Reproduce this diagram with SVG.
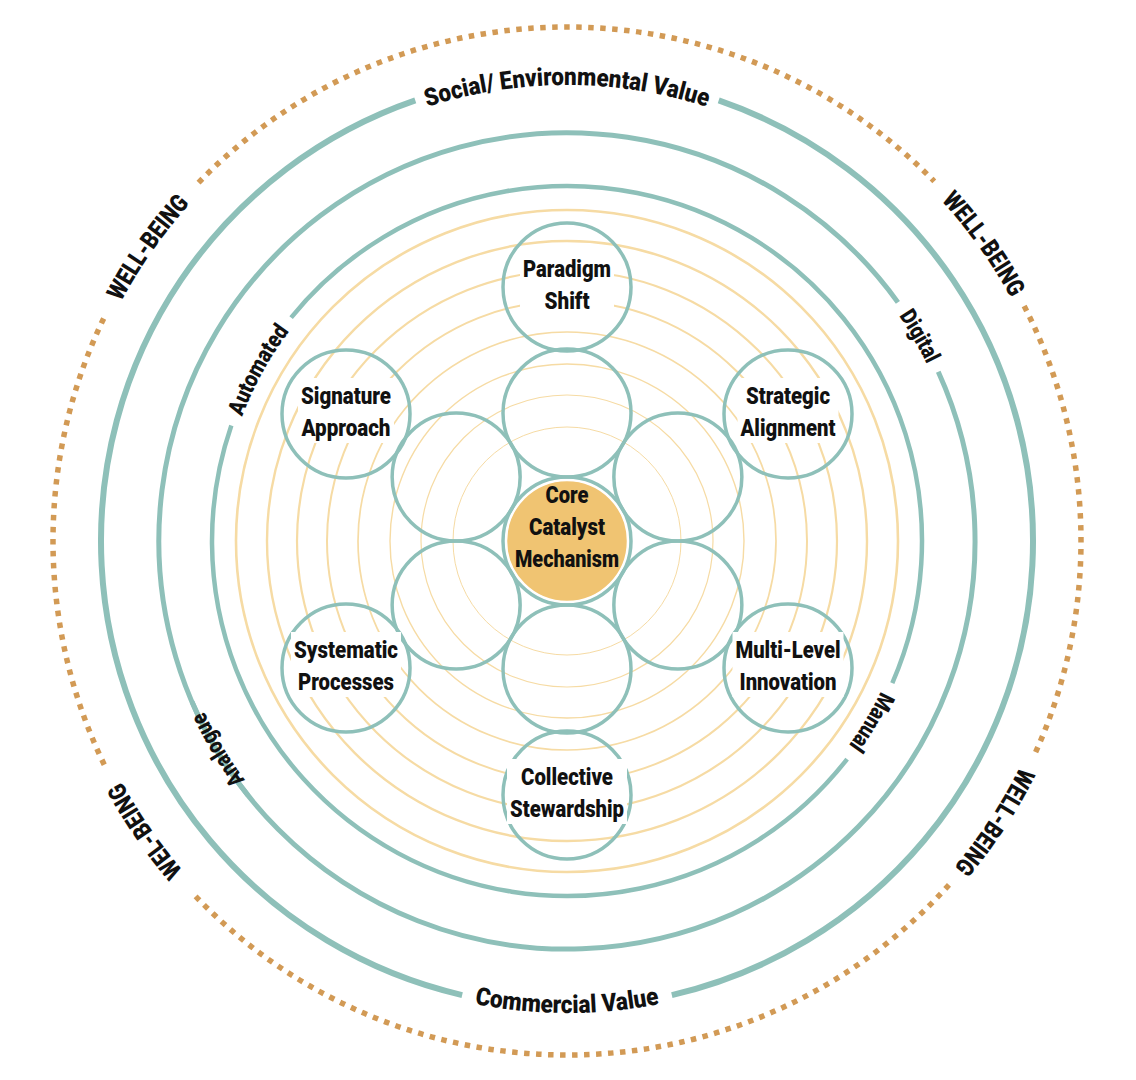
<svg xmlns="http://www.w3.org/2000/svg" width="1136" height="1080" viewBox="0 0 1136 1080">
<defs>
<style>
.bg{fill:#ffffff}
.yr{fill:none;stroke:#F6DBA4}
.tr{fill:none;stroke:#8EC0B9}
.dot{fill:none;stroke:#D29A55;stroke-width:5.5;stroke-dasharray:5.5 6.5}
.nc{fill:none;stroke:#8EC0B9;stroke-width:3.5}
.lb{fill:#ffffff}
.nt{font-family:Roboto,"Liberation Sans",sans-serif;font-weight:900;font-size:23px;fill:#111111;text-anchor:middle}
.rt{font-family:Roboto,"Liberation Sans",sans-serif;font-weight:900;fill:#111111;text-anchor:middle}
</style>
<path id="pSoc" d="M 273.89 191.68 A 456 456 0 0 1 860.11 191.68"/>
<path id="pCom" d="M 263.60 902.57 A 472 472 0 0 0 870.40 902.57"/>
<path id="pWUL" d="M 78.24 410.04 A 506 506 0 0 1 276.77 126.51"/>
<path id="pWUR" d="M 853.60 123.99 A 506 506 0 0 1 1054.60 405.78"/>
<path id="pWLR" d="M 1059.43 657.41 A 506 506 0 0 1 869.40 946.70"/>
<path id="pWLL" d="M 273.17 952.94 A 506 506 0 0 1 77.12 667.69"/>
<path id="pAut" d="M 219.05 547.07 A 348 348 0 0 1 387.77 242.70"/>
<path id="pMan" d="M 914.97 545.56 A 348 348 0 0 1 737.04 844.63"/>
<path id="pDig" d="M 766.59 193.20 A 401 401 0 0 1 968.00 539.95"/>
<path id="pAna" d="M 371.68 891.21 A 401 401 0 0 1 166.04 546.95"/>
</defs>
<rect class="bg" x="0" y="0" width="1136" height="1080"/>

<g id="yellow-rings">
<circle class="yr" cx="567" cy="541" r="331" stroke-width="2.6"/>
<circle class="yr" cx="567" cy="541" r="300" stroke-width="2.4"/>
<circle class="yr" cx="567" cy="541" r="270" stroke-width="2.2"/>
<circle class="yr" cx="567" cy="541" r="240" stroke-width="2"/>
<circle class="yr" cx="567" cy="541" r="209" stroke-width="1.7"/>
<circle class="yr" cx="567" cy="541" r="177" stroke-width="1.4"/>
<circle class="yr" cx="567" cy="541" r="146" stroke-width="1.2"/>
<circle class="yr" cx="567" cy="541" r="114" stroke-width="1"/>
</g>

<g id="outer-rings">
<path class="dot" d="M 198.51 182.65 A 514 514 0 0 1 934.24 181.37"/>
<path class="dot" d="M 1024.16 306.08 A 514 514 0 0 1 1034.35 754.97"/>
<path class="dot" d="M 948.97 884.93 A 514 514 0 0 1 192.93 893.51"/>
<path class="dot" d="M 104.24 764.71 A 514 514 0 0 1 105.02 315.68"/>
<path class="tr" stroke-width="6" d="M 718.71 100.39 A 466 466 0 0 1 671.83 995.06"/>
<path class="tr" stroke-width="6" d="M 462.17 995.06 A 466 466 0 0 1 415.29 100.39"/>
<path class="tr" stroke-width="5" d="M 938.26 371.81 A 408 408 0 1 1 191.99 701.73"/>
<path class="tr" stroke-width="5" d="M 247.70 794.98 A 408 408 0 1 1 897.91 302.34"/>
<path class="tr" stroke-width="4.5" d="M 291.11 317.59 A 355 355 0 0 1 892.31 683.12"/>
<path class="tr" stroke-width="4.5" d="M 847.12 759.07 A 355 355 0 0 1 231.34 425.42"/>
</g>

<g id="ring-labels">
<text class="rt" font-size="25"><textPath href="#pSoc" startOffset="50%" textLength="284" lengthAdjust="spacingAndGlyphs">Social/ Environmental Value</textPath></text>
<text class="rt" font-size="25"><textPath href="#pCom" startOffset="50%" textLength="186" lengthAdjust="spacingAndGlyphs">Commercial Value</textPath></text>
<text class="rt" font-size="25"><textPath href="#pWUL" startOffset="50%" textLength="120" lengthAdjust="spacingAndGlyphs">WELL-BEING</textPath></text>
<text class="rt" font-size="25"><textPath href="#pWUR" startOffset="50%" textLength="120" lengthAdjust="spacingAndGlyphs">WELL-BEING</textPath></text>
<text class="rt" font-size="25"><textPath href="#pWLR" startOffset="50%" textLength="120" lengthAdjust="spacingAndGlyphs">WELL-BEING</textPath></text>
<text class="rt" font-size="25"><textPath href="#pWLL" startOffset="50%" textLength="108" lengthAdjust="spacingAndGlyphs">WEL-BEING</textPath></text>
<text class="rt" font-size="23"><textPath href="#pAut" startOffset="50%" textLength="98" lengthAdjust="spacingAndGlyphs">Automated</textPath></text>
<text class="rt" font-size="23"><textPath href="#pMan" startOffset="50%" textLength="63" lengthAdjust="spacingAndGlyphs">Manual</textPath></text>
<text class="rt" font-size="23"><textPath href="#pDig" startOffset="50%" textLength="56" lengthAdjust="spacingAndGlyphs">Digital</textPath></text>
<text class="rt" font-size="23"><textPath href="#pAna" startOffset="50%" textLength="80" lengthAdjust="spacingAndGlyphs">Analogue</textPath></text>
</g>

<g id="connectors"></g>

<g id="petals">
<circle class="nc" cx="567" cy="413" r="64"/>
<circle class="nc" cx="677.85" cy="477" r="64"/>
<circle class="nc" cx="677.85" cy="605" r="64"/>
<circle class="nc" cx="567" cy="669" r="64"/>
<circle class="nc" cx="456.15" cy="605" r="64"/>
<circle class="nc" cx="456.15" cy="477" r="64"/>
</g>

<g id="node-core">
<circle class="nc" cx="567" cy="541" r="64"/>
<circle cx="567" cy="541" r="60.5" fill="#F0C472" stroke="#ffffff" stroke-width="1.5"/>
<text class="nt" x="567" y="503" textLength="43" lengthAdjust="spacingAndGlyphs">Core</text>
<text class="nt" x="567" y="535" textLength="76" lengthAdjust="spacingAndGlyphs">Catalyst</text>
<text class="nt" x="567" y="567" textLength="104" lengthAdjust="spacingAndGlyphs">Mechanism</text>
</g>

<g id="node-paradigm">
<circle class="nc" cx="567" cy="287" r="64"/>
<rect class="lb" x="520" y="251" width="94" height="65"/>
<text class="nt" x="567" y="277" textLength="88" lengthAdjust="spacingAndGlyphs">Paradigm</text>
<text class="nt" x="567" y="309" textLength="45" lengthAdjust="spacingAndGlyphs">Shift</text>
</g>

<g id="node-signature">
<circle class="nc" cx="346" cy="414" r="64"/>
<rect class="lb" x="298" y="378" width="96" height="65"/>
<text class="nt" x="346" y="404" textLength="90" lengthAdjust="spacingAndGlyphs">Signature</text>
<text class="nt" x="346" y="436" textLength="89" lengthAdjust="spacingAndGlyphs">Approach</text>
</g>

<g id="node-strategic">
<circle class="nc" cx="788" cy="414" r="64"/>
<rect class="lb" x="737.5" y="378" width="101" height="65"/>
<text class="nt" x="788" y="404" textLength="84" lengthAdjust="spacingAndGlyphs">Strategic</text>
<text class="nt" x="788" y="436" textLength="95" lengthAdjust="spacingAndGlyphs">Alignment</text>
</g>

<g id="node-systematic">
<circle class="nc" cx="346" cy="668" r="64"/>
<rect class="lb" x="291" y="632" width="110" height="65"/>
<text class="nt" x="346" y="658" textLength="104" lengthAdjust="spacingAndGlyphs">Systematic</text>
<text class="nt" x="346" y="690" textLength="96" lengthAdjust="spacingAndGlyphs">Processes</text>
</g>

<g id="node-multilevel">
<circle class="nc" cx="788" cy="668" r="64"/>
<rect class="lb" x="732.5" y="632" width="111" height="65"/>
<text class="nt" x="788" y="658" textLength="105" lengthAdjust="spacingAndGlyphs">Multi-Level</text>
<text class="nt" x="788" y="690" textLength="97" lengthAdjust="spacingAndGlyphs">Innovation</text>
</g>

<g id="node-collective">
<circle class="nc" cx="567" cy="795" r="64"/>
<rect class="lb" x="507" y="759" width="120" height="65"/>
<text class="nt" x="567" y="785" textLength="92" lengthAdjust="spacingAndGlyphs">Collective</text>
<text class="nt" x="567" y="817" textLength="114" lengthAdjust="spacingAndGlyphs">Stewardship</text>
</g>
</svg>
